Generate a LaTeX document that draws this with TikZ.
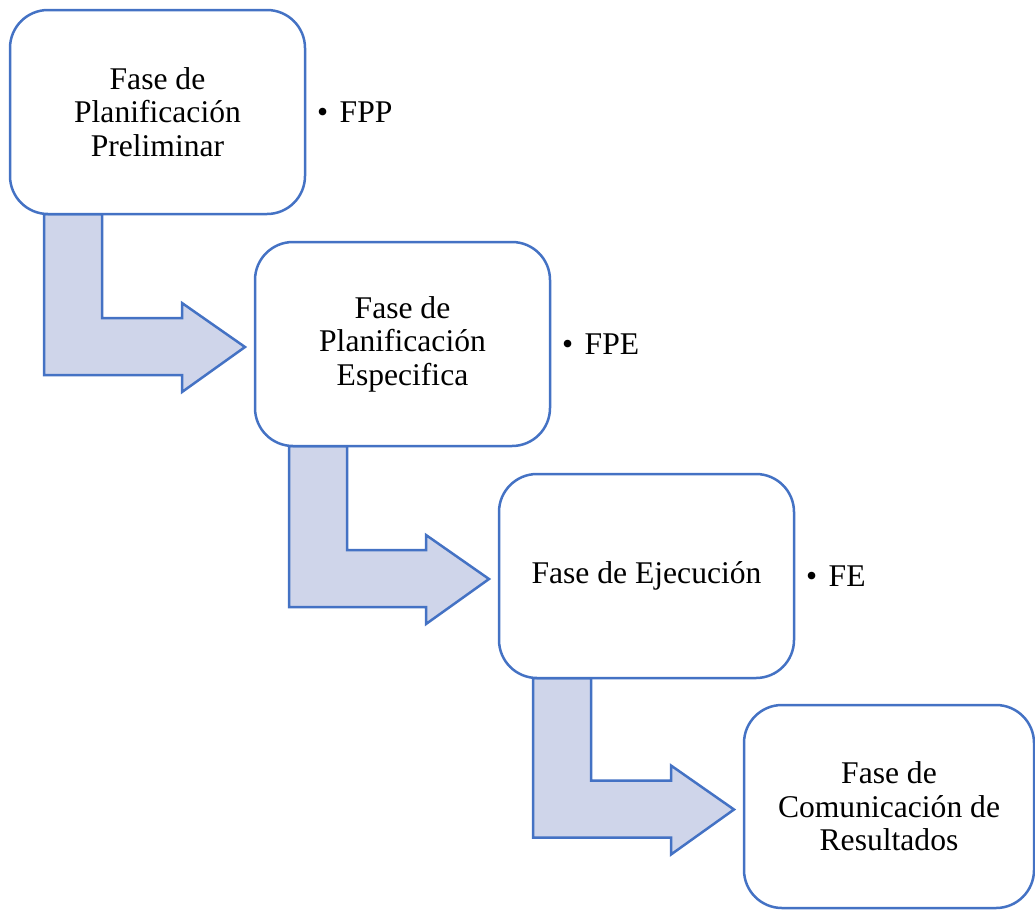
\documentclass[tikz,border=0pt]{standalone}
\usepackage{fontspec}
\setmainfont{Liberation Serif}
\usetikzlibrary{calc,backgrounds}
\definecolor{phaseblue}{HTML}{4472C4}
\definecolor{phasefill}{HTML}{CFD5EA}
\tikzset{
  phasebox/.style={draw=phaseblue, line width=2.5pt, rounded corners=38pt,
    fill=white, minimum width=295pt, minimum height=204pt, inner sep=0pt,
    outer sep=0pt, align=center, text=black,
    font=\fontsize{31.6pt}{33.5pt}\selectfont},
  phasetag/.style={anchor=base west, inner sep=0pt, text=black,
    font=\fontsize{31.6pt}{33.5pt}\selectfont},
  bentarrow/.style={draw=phaseblue, line width=2.5pt, fill=phasefill,
    line join=miter}
}
% bent block arrow from the foot of one phase box to the side of the next
\newcommand{\phasearrow}[2]{%
  \path let \p1=(#1.south west), \p2=($(#2.west)+(-10,3)$) in
    [bentarrow]
    (\x1+34pt,\y1) -- (\x1+92pt,\y1) -- (\x1+92pt,\y2+29pt)
    -- (\x2-63pt,\y2+29pt) -- (\x2-63pt,\y2+44pt) -- (\x2,\y2)
    -- (\x2-63pt,\y2-45pt) -- (\x2-63pt,\y2-28pt)
    -- (\x1+34pt,\y2-28pt) -- cycle;}
\begin{document}
\begin{tikzpicture}[x=1pt,y=-1pt]
  \useasboundingbox (0,0) rectangle (1035,911);

  % phase boxes
  \node[phasebox] (b1) at (157.5,112) {Fase de\\Planificación\\Preliminar};
  \node[phasebox] (b2) at (402.5,344) {Fase de\\Planificación\\Especifica};
  \node[phasebox] (b3) at (646.5,576) {Fase de Ejecución};
  \node[phasebox, minimum width=290pt, minimum height=203pt] (b4) at (889,806.5)
    {Fase de\\Comunicación de\\Resultados};

  % arrows sit behind the boxes
  \begin{pgfonlayer}{background}
    \phasearrow{b1}{b2}
    \phasearrow{b2}{b3}
    \phasearrow{b3}{b4}
  \end{pgfonlayer}

  % abbreviations beside each box
  \node[phasetag] (t1) at ($(b1.east)+(12,10)$) {•\hspace{11.5pt}FPP};
  \node[phasetag] (t2) at ($(b2.east)+(12,10)$) {•\hspace{11.5pt}FPE};
  \node[phasetag] (t3) at ($(b3.east)+(12,10)$) {•\hspace{11.5pt}FE};
\end{tikzpicture}
\end{document}
